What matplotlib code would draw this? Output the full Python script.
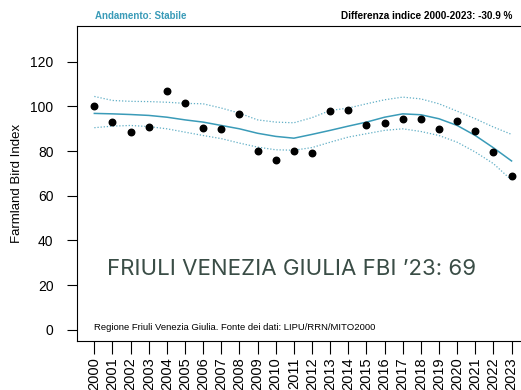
import matplotlib.pyplot as plt
import numpy as np

anni = np.arange(2000, 2024)

# indice annuale (punti)
indice = [100, 93, 88.7, 91, 107, 101.6, 90.5, 89.7, 96.7, 80, 76.2, 80.2,
          79.3, 97.9, 98.4, 91.5, 92.7, 94.5, 94.5, 90, 93.5, 89, 79.6, 69]

# trend lisciato e intervallo di confidenza
trend = [96.9, 96.7, 96.4, 96, 95.2, 94, 93, 91.5, 90, 88, 86.6, 85.8,
         87.5, 89.3, 91.2, 93, 95.2, 96.7, 96.3, 94.5, 91.5, 87, 81.5, 75.6]
sup = [104.5, 102.7, 102.3, 102.2, 101.9, 101.4, 101.2, 99.3, 97, 94, 93, 92.7,
       95, 98.2, 99.3, 101.2, 103, 104.2, 103.4, 101.2, 97.9, 94.5, 90.8, 87.5]
inf = [90.5, 91.2, 91.5, 91, 90, 88.5, 87, 85.6, 83.6, 81.8, 80.6, 80.4,
       81.6, 84, 86.3, 87.8, 89.3, 90, 88.8, 87, 84, 79.6, 74.4, 67]

plt.rcParams['font.family'] = 'Liberation Sans'

fig = plt.figure(figsize=(5.21, 3.9), dpi=100)
ax = fig.add_axes([0.148, 0.126, 0.86, 0.807])

colore = '#3a9bb8'
ax.plot(anni, trend, color=colore, lw=1.1)
ax.plot(anni, sup, color=colore, lw=0.9, ls=(0, (1, 1.5)), alpha=0.8)
ax.plot(anni, inf, color=colore, lw=0.9, ls=(0, (1, 1.5)), alpha=0.8)
ax.scatter(anni, indice, color='black', s=22, zorder=3)

ax.set_xlim(1999.05, 2023.75)
ax.set_ylim(-5, 136)
ax.set_yticks(range(0, 121, 20))
ax.set_xticks(anni)
ax.set_xticklabels([str(a) for a in anni], rotation=90, fontsize=10.5)
ax.tick_params(axis='y', labelsize=10, length=7, pad=10)
ax.tick_params(axis='x', length=9, pad=3)
ax.spines['right'].set_visible(False)
ax.set_ylabel('Farmland Bird Index', fontsize=9.5, labelpad=5)

ax.text(2000.0, 1, 'Regione Friuli Venezia Giulia. Fonte dei dati: LIPU/RRN/MITO2000',
        fontsize=6.8, va='center')
ax.text(2000.7, 27, 'FRIULI VENEZIA GIULIA FBI \u201923: 69', fontsize=16,
        color='#3a4d46', family='Inter', va='center')

fig.text(0.183, 0.959, 'Andamento: Stabile', fontsize=7, color=colore,
         fontweight='bold', va='center')
fig.text(0.983, 0.959, 'Differenza indice 2000-2023: -30.9 %', fontsize=7.2,
         fontweight='bold', ha='right', va='center')

plt.savefig('out.png', dpi=100)
